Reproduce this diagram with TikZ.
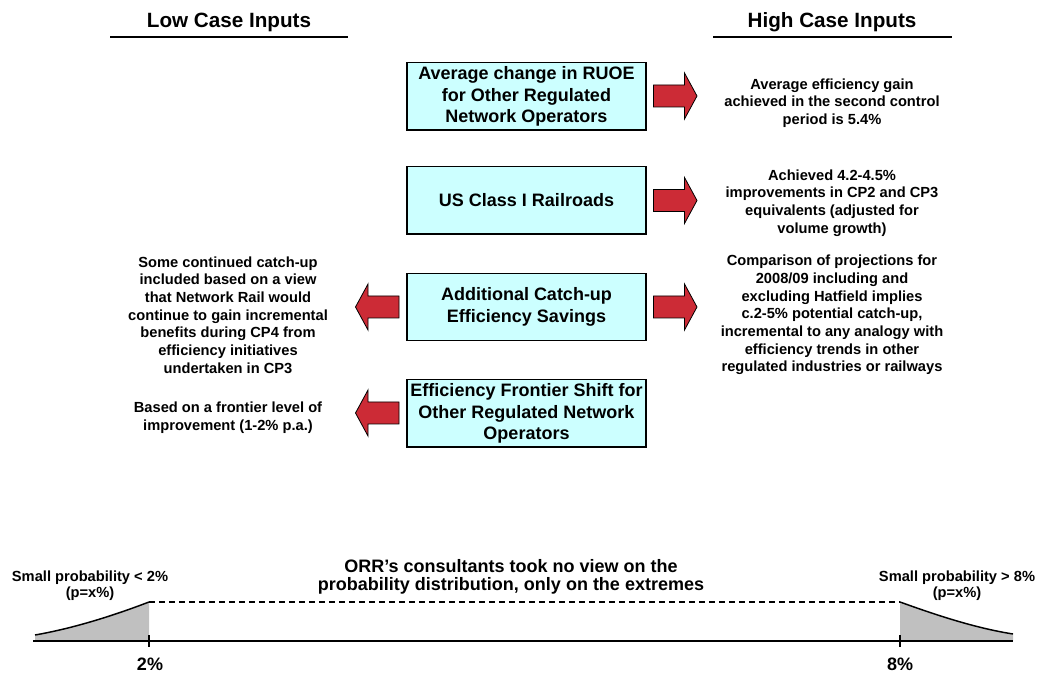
\documentclass[tikz,border=0pt]{standalone}
\usepackage{fontspec}
\setmainfont{Liberation Sans}
\definecolor{boxcyan}{HTML}{CCFFFF}
\definecolor{arrowred}{HTML}{CC2B36}
\definecolor{tailgray}{HTML}{C0C0C0}
\begin{document}
\begin{tikzpicture}[x=0.75pt,y=-0.75pt,
  inputbox/.style={draw=black, line width=1.1pt, fill=boxcyan,
    minimum width=179.25pt, minimum height=50.6pt, inner sep=0pt,
    align=center, font=\fontsize{13.5}{16.25}\selectfont\bfseries},
  note/.style={align=center, inner sep=0pt,
    font=\fontsize{11}{13.3}\selectfont\bfseries},
  heading/.style={inner sep=0pt, font=\fontsize{15.5}{18}\selectfont\bfseries},
  rule/.style={line width=1.1pt},
  arrowbody/.style={fill=arrowred, draw=black, line width=0.6pt, line join=miter},
  blockarrow/.pic={\path[arrowbody] (-22,-11) -- (9,-11) -- (9,-23)
      -- (21.5,0) -- (9,23) -- (9,11) -- (-22,11) -- cycle;},
  axisline/.style={line width=1.1pt},
  tail/.style={fill=tailgray},
  tailedge/.style={line width=1.1pt},
  guess/.style={line width=0.9pt, dash pattern=on 4.5pt off 3pt},
  problabel/.style={align=center, inner sep=0pt,
    font=\fontsize{11}{12}\selectfont\bfseries},
  midlabel/.style={align=center, inner sep=0pt,
    font=\fontsize{13.5}{14}\selectfont\bfseries},
  pct/.style={inner sep=0pt, font=\fontsize{13.5}{16}\selectfont\bfseries}
]
\useasboundingbox (0,0) rectangle (1039,673);

% column headings
\node[heading] (low) at (229,22) {Low Case Inputs};
\node[heading] (high) at (832,22) {High Case Inputs};
\coordinate (lowL) at (110,37);  \coordinate (lowR) at (348,37);
\coordinate (highL) at (713,37); \coordinate (highR) at (952,37);
\draw[rule] (lowL) -- (lowR);
\draw[rule] (highL) -- (highR);

% central input boxes
\node[inputbox] (ruoe) at (526.5,96.5) {Average change in RUOE\\for Other Regulated\\Network Operators};
\node[inputbox] (us) at (526.5,200.5) {US Class I Railroads};
\node[inputbox] (catch) at (526.5,307) {Additional Catch-up\\Efficiency Savings};
\node[inputbox] (front) at (526.5,413.5) {Efficiency Frontier Shift for\\Other Regulated Network\\Operators};

% block arrows
\pic at (675.5,96) {blockarrow};
\pic at (675.5,200.5) {blockarrow};
\pic at (675.5,307) {blockarrow};
\pic[xscale=-1] at (377,307) {blockarrow};
\pic[xscale=-1] at (377,413) {blockarrow};

% high case notes
\node[note] (h1) at (832,103) {Average efficiency gain\\achieved in the second control\\period is 5.4\%};
\node[note] (h2) at (832,203) {Achieved 4.2-4.5\%\\improvements in CP2 and CP3\\equivalents (adjusted for\\volume growth)};
\node[note] (h3) at (832,315) {Comparison of projections for\\2008/09 including and\\excluding Hatfield implies\\c.2-5\% potential catch-up,\\incremental to any analogy with\\efficiency trends in other\\regulated industries or railways};

% low case notes
\node[note] (l3) at (228,315) {Some continued catch-up\\included based on a view\\that Network Rail would\\continue to gain incremental\\benefits during CP4 from\\efficiency initiatives\\undertaken in CP3};
\node[note] (l4) at (228,417.5) {Based on a frontier level of\\improvement (1-2\% p.a.)};

% probability axis
\coordinate (axL) at (33,641);  \coordinate (axR) at (1013,641);
\coordinate (two) at (149,641); \coordinate (eight) at (900,641);
\coordinate (twoTop) at (149,602); \coordinate (eightTop) at (900,602);
\coordinate (lowEnd) at (35,635); \coordinate (highEnd) at (1013,634);

\path[tail] (35,641) -- (lowEnd) .. controls (75,628) and (115,615) .. (twoTop) -- (two) -- cycle;
\path[tail] (eight) -- (eightTop) .. controls (936,615) and (975,628) .. (highEnd) -- (1013,641) -- cycle;
\draw[tailedge] (lowEnd) .. controls (75,628) and (115,615) .. (twoTop);
\draw[tailedge] (eightTop) .. controls (936,615) and (975,628) .. (highEnd);
\draw[guess] (twoTop) -- (eightTop);
\draw[axisline] (axL) -- (axR);
\draw[axisline] (149,635) -- (149,647);
\draw[axisline] (900,635) -- (900,647);

\node[pct] (p2) at (150,664.5) {2\%};
\node[pct] (p8) at (900,664.5) {8\%};
\node[problabel] (lowtail) at (90,585.5) {Small probability < 2\%\\(p=x\%)};
\node[problabel] (hightail) at (957,585.5) {Small probability > 8\%\\(p=x\%)};
\node[midlabel] (view) at (511,577) {ORR’s consultants took no view on the\\probability distribution, only on the extremes};
\end{tikzpicture}
\end{document}
